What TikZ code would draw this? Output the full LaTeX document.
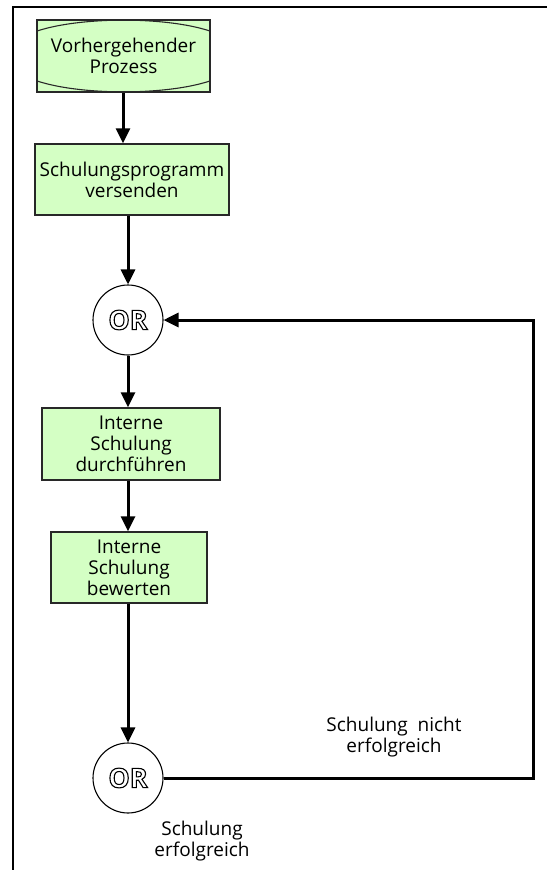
\documentclass[tikz,border=0pt]{standalone}
\usepackage{fontspec}
\setmainfont{Open Sans}
\usetikzlibrary{arrows.meta,calc}
\definecolor{stepgreen}{RGB}{212,255,196}
\definecolor{edgegray}{RGB}{40,40,40}
% hollow lettering: glyphs filled white and stroked black
\newcommand{\hollowtext}[1]{%
  \special{pdf:literal direct q 2 Tr 1.1 w 1 g 0 G}#1\special{pdf:literal direct Q}}
\begin{document}
\begin{tikzpicture}[x=1pt,y=1pt,
  every node/.style={font=\fontsize{19}{21}\selectfont, align=center, inner sep=0pt},
  stepbox/.style={draw=edgegray, line width=1.3pt, fill=stepgreen, rectangle},
  eventbox/.style={stepbox,
    path picture={
      \coordinate (ppnw) at (path picture bounding box.north west);
      \coordinate (ppne) at (path picture bounding box.north east);
      \coordinate (ppsw) at (path picture bounding box.south west);
      \coordinate (ppse) at (path picture bounding box.south east);
      \coordinate (ppn) at (path picture bounding box.north);
      \coordinate (pps) at (path picture bounding box.south);
      \draw[edgegray, line width=1.1pt]
        ($(ppnw)+(0,-11)$) .. controls ($(ppnw)+(22,-4)$) and ($(ppnw)+(50,-0.5)$) .. (ppn)
        .. controls ($(ppne)+(-50,-0.5)$) and ($(ppne)+(-22,-4)$) .. ($(ppne)+(0,-11)$);
      \draw[edgegray, line width=1.1pt]
        ($(ppsw)+(0,11)$) .. controls ($(ppsw)+(22,4)$) and ($(ppsw)+(50,0.5)$) .. (pps)
        .. controls ($(ppse)+(-50,0.5)$) and ($(ppse)+(-22,4)$) .. ($(ppse)+(0,11)$);
    }},
  gate/.style={draw=black, line width=1.1pt, fill=white, circle, minimum size=70pt,
    font=\fontsize{27}{28}\selectfont\bfseries},
  flow/.style={line width=3pt, -{Triangle[length=15pt,width=14pt]}},
  frameline/.style={line width=2.6pt}
]
\useasboundingbox (0,0) rectangle (547,-870);

% frame
\draw[frameline] (13,-870) -- (13,-7) -- (547,-7);

% steps
\node[eventbox, minimum width=173pt, minimum height=72pt] (prev) at (123.5,-56)
  {Vorhergehender\\Prozess};
\node[stepbox, minimum width=194pt, minimum height=71pt] (send) at (132,-179.5)
  {Schulungsprogramm\\versenden};
\node[gate] (or1) at (128,-320) {\hollowtext{OR}};
\node[stepbox, minimum width=178pt, minimum height=72pt] (run) at (131,-444)
  {Interne\\Schulung\\durchführen};
\node[stepbox, minimum width=156pt, minimum height=71pt] (eval) at (129,-567.5)
  {Interne\\Schulung\\bewerten};
\node[gate] (or2) at (128,-778) {\hollowtext{OR}};

\coordinate (c1) at (533,-778);
\coordinate (c2) at (533,-320);

% connectors
\draw[flow] (prev.south -| 123,0) -- (send.north -| 123,0);
\draw[flow] (send.south -| or1.north) -- (or1.north);
\draw[flow] (or1.south) -- (run.north -| or1.south);
\draw[flow] (run.south -| or1.south) -- (eval.north -| or1.south);
\draw[flow] (eval.south -| or2.north) -- (or2.north);
\draw[flow] (or2.east) -- (c1) -- (c2) -- (or1.east);

% branch labels
\node (lfail) at (394,-737) {Schulung\ \ nicht\\erfolgreich};
\node (lok) at (202,-841) {Schulung\\erfolgreich};
\end{tikzpicture}
\end{document}
